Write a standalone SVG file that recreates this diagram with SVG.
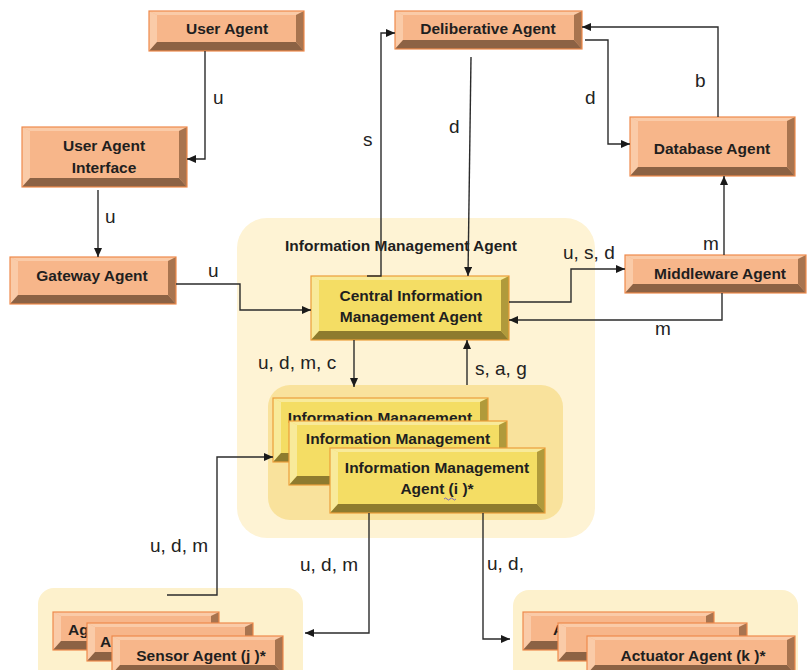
<svg xmlns="http://www.w3.org/2000/svg" width="807" height="670" viewBox="0 0 807 670">
  <defs>
    <marker id="arr" viewBox="0 0 9 8" refX="9" refY="4" markerWidth="9" markerHeight="8" markerUnits="userSpaceOnUse" orient="auto">
      <path d="M0,0 L9,4 L0,8 z" fill="#1a1a1a"/>
    </marker>
    <style>
      .o-face { fill: #F7B68A; }
      .o-lt { fill: #FACBA8; }
      .o-rt { fill: #A8744F; }
      .o-bt { fill: #8C6244; }
      .o-edge { fill: none; stroke: #EE8A4C; stroke-width: 1.2; }
      .y-face { fill: #F4DD64; }
      .y-lt { fill: #F8EA9A; }
      .y-rt { fill: #B09A3B; }
      .y-bt { fill: #8E7B2E; }
      .y-edge { fill: none; stroke: #EC9E3A; stroke-width: 1.2; }
      .lbl { font-family: "Liberation Sans", Arial, sans-serif; font-weight: bold; font-size: 15.5px; fill: #1f1f1f; text-anchor: middle; }
      .lbl-s { font-family: "Liberation Sans", Arial, sans-serif; font-weight: bold; font-size: 15.5px; fill: #1f1f1f; }
      .elbl { font-family: "Liberation Sans", Arial, sans-serif; font-size: 19px; fill: #222; }
      .wire { fill: none; stroke: #2b2b2b; stroke-width: 1.4; }
      .arrow { marker-end: url(#arr); }
    </style>
  </defs>

  <rect width="807" height="670" fill="#ffffff"/>

  <!-- containers -->
  <g id="information-management-agent">
    <rect x="237" y="218" width="358" height="320" rx="30" fill="#FEF3D4"/>
    <text class="lbl" x="401" y="251">Information Management Agent</text>
  </g>
  <g id="ima-pool">
    <rect x="268" y="385" width="295" height="135" rx="22" fill="#F9E29C"/>
  </g>
  <g id="sensor-pool">
    <rect x="38" y="588" width="265" height="100" rx="16" fill="#FDF1CC"/>
  </g>
  <g id="actuator-pool">
    <rect x="513" y="590" width="285" height="100" rx="16" fill="#FDF1CC"/>
  </g>

  <!-- orange agents -->
  <g id="user-agent">
    <rect class="o-face" x="149" y="11" width="155" height="40"/>
    <polygon class="o-lt" points="149,11 304,11 296,15 157,15"/>
    <polygon class="o-lt" points="149,11 157,15 157,42 149,51"/>
    <polygon class="o-rt" points="304,11 304,51 296,42 296,15"/>
    <polygon class="o-bt" points="149,51 157,42 296,42 304,51"/>
    <rect class="o-edge" x="149" y="11" width="155" height="40"/>
    <text class="lbl" x="227" y="34">User Agent</text>
  </g>

  <g id="user-agent-interface">
    <rect class="o-face" x="22" y="127" width="165" height="60"/>
    <polygon class="o-lt" points="22,127 187,127 179,131 30,131"/>
    <polygon class="o-lt" points="22,127 30,131 30,178 22,187"/>
    <polygon class="o-rt" points="187,127 187,187 179,178 179,131"/>
    <polygon class="o-bt" points="22,187 30,178 179,178 187,187"/>
    <rect class="o-edge" x="22" y="127" width="165" height="60"/>
    <text class="lbl" x="104" y="151">User Agent</text>
    <text class="lbl" x="104" y="173">Interface</text>
  </g>

  <g id="gateway-agent">
    <rect class="o-face" x="10" y="257" width="166" height="47"/>
    <polygon class="o-lt" points="10,257 176,257 168,261 18,261"/>
    <polygon class="o-lt" points="10,257 18,261 18,295 10,304"/>
    <polygon class="o-rt" points="176,257 176,304 168,295 168,261"/>
    <polygon class="o-bt" points="10,304 18,295 168,295 176,304"/>
    <rect class="o-edge" x="10" y="257" width="166" height="47"/>
    <text class="lbl" x="92" y="281">Gateway Agent</text>
  </g>

  <g id="deliberative-agent">
    <rect class="o-face" x="395" y="11" width="187" height="38"/>
    <polygon class="o-lt" points="395,11 582,11 574,15 403,15"/>
    <polygon class="o-lt" points="395,11 403,15 403,40 395,49"/>
    <polygon class="o-rt" points="582,11 582,49 574,40 574,15"/>
    <polygon class="o-bt" points="395,49 403,40 574,40 582,49"/>
    <rect class="o-edge" x="395" y="11" width="187" height="38"/>
    <text class="lbl" x="488" y="34">Deliberative Agent</text>
  </g>

  <g id="database-agent">
    <rect class="o-face" x="630" y="117" width="165" height="59"/>
    <polygon class="o-lt" points="630,117 795,117 787,121 638,121"/>
    <polygon class="o-lt" points="630,117 638,121 638,167 630,176"/>
    <polygon class="o-rt" points="795,117 795,176 787,167 787,121"/>
    <polygon class="o-bt" points="630,176 638,167 787,167 795,176"/>
    <rect class="o-edge" x="630" y="117" width="165" height="59"/>
    <text class="lbl" x="712" y="154">Database Agent</text>
  </g>

  <g id="middleware-agent">
    <rect class="o-face" x="625" y="255" width="181" height="38"/>
    <polygon class="o-lt" points="625,255 806,255 798,259 633,259"/>
    <polygon class="o-lt" points="625,255 633,259 633,284 625,293"/>
    <polygon class="o-rt" points="806,255 806,293 798,284 798,259"/>
    <polygon class="o-bt" points="625,293 633,284 798,284 806,293"/>
    <rect class="o-edge" x="625" y="255" width="181" height="38"/>
    <text class="lbl" x="720" y="279">Middleware Agent</text>
  </g>

  <!-- yellow agents -->
  <g id="central-information-management-agent">
    <rect class="y-face" x="311" y="276" width="198" height="64"/>
    <polygon class="y-lt" points="311,276 509,276 501,280 319,280"/>
    <polygon class="y-lt" points="311,276 319,280 319,331 311,340"/>
    <polygon class="y-rt" points="509,276 509,340 501,331 501,280"/>
    <polygon class="y-bt" points="311,340 319,331 501,331 509,340"/>
    <rect class="y-edge" x="311" y="276" width="198" height="64"/>
    <text class="lbl" x="411" y="301">Central Information</text>
    <text class="lbl" x="411" y="322">Management Agent</text>
  </g>

  <g id="ima-1">
    <rect class="y-face" x="273" y="398" width="215" height="64"/>
    <polygon class="y-lt" points="273,398 488,398 480,402 281,402"/>
    <polygon class="y-lt" points="273,398 281,402 281,453 273,462"/>
    <polygon class="y-rt" points="488,398 488,462 480,453 480,402"/>
    <polygon class="y-bt" points="273,462 281,453 480,453 488,462"/>
    <rect class="y-edge" x="273" y="398" width="215" height="64"/>
    <text class="lbl" x="380" y="423">Information Management</text>
  </g>

  <g id="ima-2">
    <rect class="y-face" x="289" y="421" width="218" height="64"/>
    <polygon class="y-lt" points="289,421 507,421 499,425 297,425"/>
    <polygon class="y-lt" points="289,421 297,425 297,476 289,485"/>
    <polygon class="y-rt" points="507,421 507,485 499,476 499,425"/>
    <polygon class="y-bt" points="289,485 297,476 499,476 507,485"/>
    <rect class="y-edge" x="289" y="421" width="218" height="64"/>
    <text class="lbl" x="398" y="444">Information Management</text>
  </g>

  <g id="ima-i">
    <rect class="y-face" x="330" y="448" width="215" height="65"/>
    <polygon class="y-lt" points="330,448 545,448 537,452 338,452"/>
    <polygon class="y-lt" points="330,448 338,452 338,504 330,513"/>
    <polygon class="y-rt" points="545,448 545,513 537,504 537,452"/>
    <polygon class="y-bt" points="330,513 338,504 537,504 545,513"/>
    <rect class="y-edge" x="330" y="448" width="215" height="65"/>
    <text class="lbl" x="437" y="473">Information Management</text>
    <text class="lbl" x="437" y="494">Agent (i )*</text>
    <path d="M444,499 q1.5,-2 3,0 t3,0 t3,0 t3,0" fill="none" stroke="#6B5BC8" stroke-width="0.9"/>
  </g>

  <!-- sensor agents (back copies show only their visible lettering) -->
  <g id="sensor-agent-a">
    <rect class="o-face" x="53" y="612" width="166" height="38"/>
    <polygon class="o-lt" points="53,612 219,612 211,616 61,616"/>
    <polygon class="o-lt" points="53,612 61,616 61,641 53,650"/>
    <polygon class="o-rt" points="219,612 219,650 211,641 211,616"/>
    <polygon class="o-bt" points="53,650 61,641 211,641 219,650"/>
    <rect class="o-edge" x="53" y="612" width="166" height="38"/>
    <text class="lbl-s" x="68" y="635">Ag</text>
  </g>
  <g id="sensor-agent-b">
    <rect class="o-face" x="87" y="623" width="166" height="38"/>
    <polygon class="o-lt" points="87,623 253,623 245,627 95,627"/>
    <polygon class="o-lt" points="87,623 95,627 95,652 87,661"/>
    <polygon class="o-rt" points="253,623 253,661 245,652 245,627"/>
    <polygon class="o-bt" points="87,661 95,652 245,652 253,661"/>
    <rect class="o-edge" x="87" y="623" width="166" height="38"/>
    <text class="lbl-s" x="100" y="647">A</text>
  </g>
  <g id="sensor-agent-j">
    <rect class="o-face" x="112" y="636" width="171" height="38"/>
    <polygon class="o-lt" points="112,636 283,636 275,640 120,640"/>
    <polygon class="o-lt" points="112,636 120,640 120,665 112,674"/>
    <polygon class="o-rt" points="283,636 283,674 275,665 275,640"/>
    <polygon class="o-bt" points="112,674 120,665 275,665 283,674"/>
    <rect class="o-edge" x="112" y="636" width="171" height="38"/>
    <text class="lbl" x="201" y="661">Sensor Agent (j )*</text>
  </g>

  <!-- actuator agents (back copies show only their visible lettering) -->
  <g id="actuator-agent-a">
    <rect class="o-face" x="523" y="612" width="191" height="38"/>
    <polygon class="o-lt" points="523,612 714,612 706,616 531,616"/>
    <polygon class="o-lt" points="523,612 531,616 531,641 523,650"/>
    <polygon class="o-rt" points="714,612 714,650 706,641 706,616"/>
    <polygon class="o-bt" points="523,650 531,641 706,641 714,650"/>
    <rect class="o-edge" x="523" y="612" width="191" height="38"/>
    <text class="lbl-s" x="553" y="635">A</text>
  </g>
  <g id="actuator-agent-b">
    <rect class="o-face" x="558" y="623" width="189" height="38"/>
    <polygon class="o-lt" points="558,623 747,623 739,627 566,627"/>
    <polygon class="o-lt" points="558,623 566,627 566,652 558,661"/>
    <polygon class="o-rt" points="747,623 747,661 739,652 739,627"/>
    <polygon class="o-bt" points="558,661 566,652 739,652 747,661"/>
    <rect class="o-edge" x="558" y="623" width="189" height="38"/>
  </g>
  <g id="actuator-agent-k">
    <rect class="o-face" x="587" y="636" width="208" height="38"/>
    <polygon class="o-lt" points="587,636 795,636 787,640 595,640"/>
    <polygon class="o-lt" points="587,636 595,640 595,665 587,674"/>
    <polygon class="o-rt" points="795,636 795,674 787,665 787,640"/>
    <polygon class="o-bt" points="587,674 595,665 787,665 795,674"/>
    <rect class="o-edge" x="587" y="636" width="208" height="38"/>
    <text class="lbl" x="693" y="661">Actuator Agent (k )*</text>
  </g>

  <!-- connectors -->
  <g id="connectors">
    <path class="wire arrow" d="M205,51 V159 H187"/>
    <path class="wire arrow" d="M98,190 V257"/>
    <path class="wire arrow" d="M176,284 H240 V310 H311"/>
    <path class="wire arrow" d="M367,276 H381 V33 H395"/>
    <path class="wire arrow" d="M471,57 L468,276"/>
    <path class="wire arrow" d="M585,40 H608 V144 H630"/>
    <path class="wire arrow" d="M718,117 V27 H582"/>
    <path class="wire arrow" d="M724,255 V176"/>
    <path class="wire arrow" d="M509,302 H571 V269 H625"/>
    <path class="wire arrow" d="M722,293 V320 H509"/>
    <path class="wire arrow" d="M354,340 V387"/>
    <path class="wire arrow" d="M467,385 V340"/>
    <path class="wire arrow" d="M167,595 H217 V457 H273"/>
    <path class="wire arrow" d="M369,513 V633 H305"/>
    <path class="wire arrow" d="M483,513 V639 H510"/>

    <text class="elbl" x="213" y="104">u</text>
    <text class="elbl" x="105" y="223">u</text>
    <text class="elbl" x="208" y="277">u</text>
    <text class="elbl" x="363" y="146">s</text>
    <text class="elbl" x="449" y="133">d</text>
    <text class="elbl" x="585" y="104">d</text>
    <text class="elbl" x="695" y="87">b</text>
    <text class="elbl" x="703" y="250">m</text>
    <text class="elbl" x="563" y="259">u, s, d</text>
    <text class="elbl" x="655" y="335">m</text>
    <text class="elbl" x="258" y="369">u, d, m, c</text>
    <text class="elbl" x="475" y="375">s, a, g</text>
    <text class="elbl" x="150" y="552">u, d, m</text>
    <text class="elbl" x="300" y="571">u, d, m</text>
    <text class="elbl" x="487" y="570">u, d,</text>
  </g>
</svg>
